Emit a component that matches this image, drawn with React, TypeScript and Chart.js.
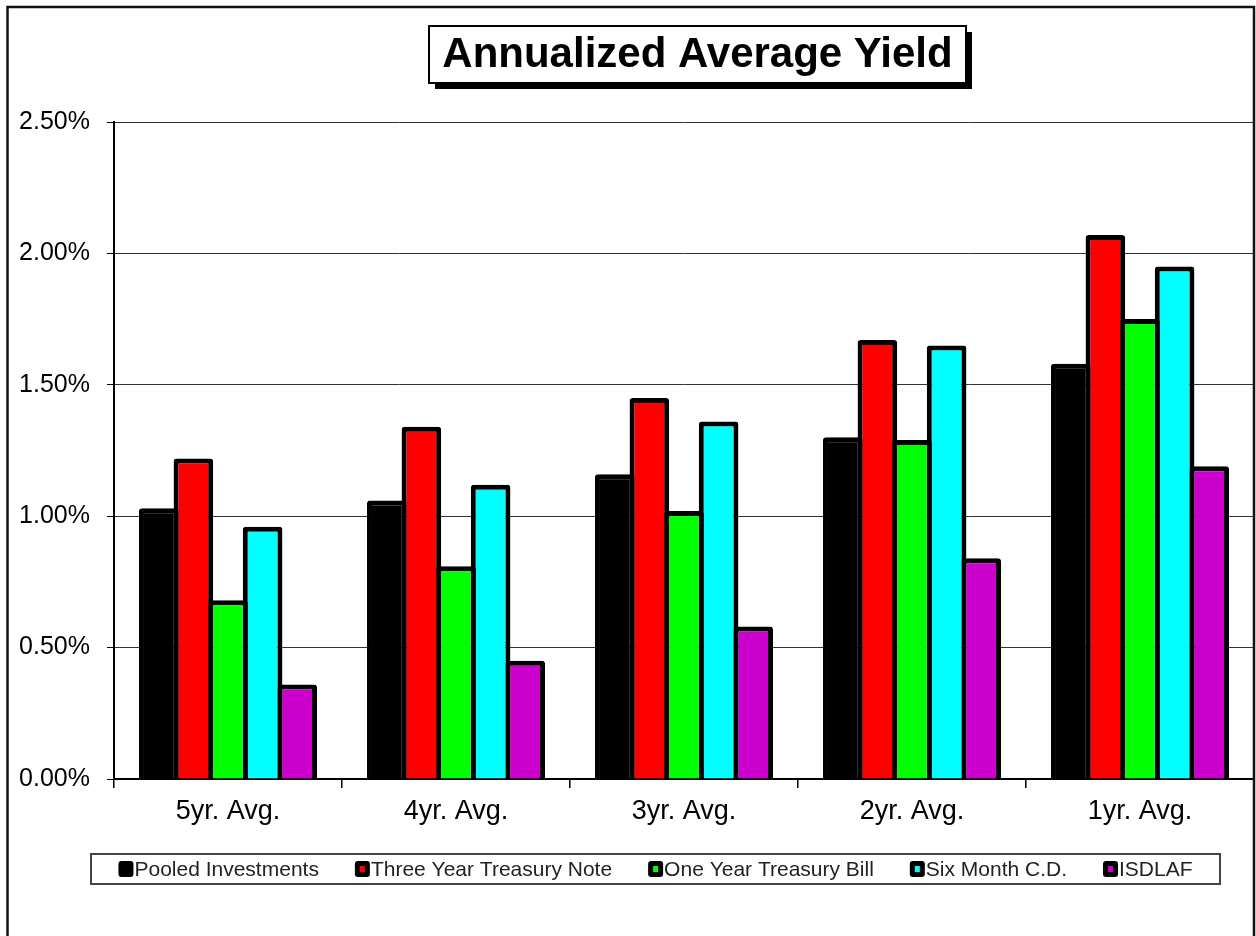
import { useEffect, useRef } from 'react';
import { Chart, registerables } from 'chart.js';

Chart.register(...registerables);

// Yield categories along the x axis
const categories = ['5yr. Avg.', '4yr. Avg.', '3yr. Avg.', '2yr. Avg.', '1yr. Avg.'];

// Series names (legend order)
const seriesNames = [
  'Pooled Investments',
  'Three Year Treasury Note',
  'One Year Treasury Bill',
  'Six Month C.D.',
  'ISDLAF',
];

// Annualized average yields, in percent
const pooledInvestments = [1.03, 1.06, 1.16, 1.30, 1.58];
const threeYearTreasuryNote = [1.22, 1.34, 1.45, 1.67, 2.07];
const oneYearTreasuryBill = [0.68, 0.81, 1.02, 1.29, 1.75];
const sixMonthCD = [0.96, 1.12, 1.36, 1.65, 1.95];
const isdlaf = [0.36, 0.45, 0.58, 0.84, 1.19];

const seriesValues = [pooledInvestments, threeYearTreasuryNote, oneYearTreasuryBill, sixMonthCD, isdlaf];
const seriesColors = ['#000000', '#ff0000', '#00ff00', '#00ffff', '#cc00cc'];

// Value axis
const yMin = 0;
const yMax = 2.5;
const yStep = 0.5;
const formatPercent = (v: number) => v.toFixed(2) + '%';

const chartTitle = 'Annualized Average Yield';
const FONT = '"Liberation Sans", Arial, sans-serif';

// Draws the outer frame and the boxed title with its drop shadow
const frameAndTitlePlugin = {
  id: 'frameAndTitle',
  afterDraw(chart: any) {
    const ctx = chart.ctx as CanvasRenderingContext2D;
    ctx.save();

    // outer frame (open at the bottom edge of the canvas)
    ctx.strokeStyle = '#111';
    ctx.lineWidth = 2.5;
    ctx.strokeRect(7.5, 7, 1246.5, 960);

    // title box
    const bx = 429;
    const by = 26;
    const bw = 537;
    const bh = 57;
    ctx.fillStyle = '#000';
    ctx.fillRect(bx + 6, by + 6, bw, bh);
    ctx.fillStyle = '#fff';
    ctx.fillRect(bx, by, bw, bh);
    ctx.strokeStyle = '#000';
    ctx.lineWidth = 2;
    ctx.strokeRect(bx, by, bw, bh);

    ctx.fillStyle = '#000';
    ctx.font = `bold 42px ${FONT}`;
    ctx.textAlign = 'center';
    ctx.textBaseline = 'middle';
    ctx.fillText(chartTitle, bx + bw / 2, by + bh / 2 + 1);
    ctx.restore();
  },
};

// Draws the boxed legend below the category labels
const boxedLegendPlugin = {
  id: 'boxedLegend',
  afterDraw(chart: any) {
    const ctx = chart.ctx as CanvasRenderingContext2D;
    const left = 91;
    const top = 854;
    const right = 1220;
    const bottom = 884;
    const cy = (top + bottom) / 2;
    const markerW = 15;
    const markerH = 16;
    const markerGap = 1;
    const itemGap = 36;

    ctx.save();
    ctx.fillStyle = '#fff';
    ctx.fillRect(left, top, right - left, bottom - top);
    ctx.strokeStyle = '#444';
    ctx.lineWidth = 2;
    ctx.strokeRect(left, top, right - left, bottom - top);

    ctx.font = `21px ${FONT}`;
    ctx.textBaseline = 'middle';
    ctx.textAlign = 'left';

    const datasets = chart.data.datasets;
    const widths = datasets.map((d: any) => ctx.measureText(d.label).width);
    const total =
      widths.reduce((a: number, w: number) => a + w + markerW + markerGap, 0) + itemGap * (datasets.length - 1);
    let x = (left + right) / 2 - total / 2;

    datasets.forEach((d: any, i: number) => {
      // marker: black rounded square with a small coloured centre
      ctx.fillStyle = '#000';
      ctx.beginPath();
      (ctx as any).roundRect(x, cy - markerH / 2, markerW, markerH, 3);
      ctx.fill();
      ctx.fillStyle = d.backgroundColor;
      ctx.fillRect(x + 5, cy - 3, 5, 6);

      ctx.fillStyle = '#222';
      ctx.fillText(d.label, x + markerW + markerGap, cy + 1);
      x += markerW + markerGap + widths[i] + itemGap;
    });
    ctx.restore();
  },
};

export default function App() {
  const canvasRef = useRef<HTMLCanvasElement | null>(null);

  useEffect(() => {
    if (!canvasRef.current) return;
    const chart = new Chart(canvasRef.current, {
      type: 'bar',
      data: {
        labels: categories,
        datasets: seriesNames.map((name, i) => ({
          label: name,
          data: seriesValues[i],
          backgroundColor: seriesColors[i],
          borderColor: '#000',
          borderWidth: 5,
          borderRadius: 3,
          borderSkipped: 'start',
          categoryPercentage: 0.759,
          barPercentage: 1.145,
        })),
      },
      options: {
        animation: false,
        responsive: false,
        devicePixelRatio: 1,
        layout: { padding: { top: 122, right: 2, left: 0, bottom: 0 } },
        plugins: {
          legend: { display: false },
          title: { display: false },
          tooltip: { enabled: false },
        },
        scales: {
          x: {
            ticks: { font: { family: FONT, size: 27 }, color: '#000', padding: 7 },
            grid: { drawOnChartArea: false, tickLength: 9, color: '#000', lineWidth: 1.5 },
            border: { color: '#000', width: 2 },
            afterFit: (s: any) => {
              s.height = 157;
            },
          },
          y: {
            min: yMin,
            max: yMax,
            ticks: {
              stepSize: yStep,
              font: { family: FONT, size: 25 },
              color: '#000',
              padding: 17,
              callback: (v: any) => formatPercent(Number(v)),
            },
            grid: { color: '#333', lineWidth: 1, tickLength: 7, tickColor: '#000' },
            border: { color: '#000', width: 2 },
            afterFit: (s: any) => {
              s.width = 114;
            },
          },
        },
      },
      plugins: [frameAndTitlePlugin, boxedLegendPlugin],
    });
    return () => chart.destroy();
  }, []);

  return (
    <div style={{ position: 'absolute', left: 0, top: 0, width: 1256, height: 936, background: '#fff' }}>
      <canvas ref={canvasRef} width={1256} height={936} />
    </div>
  );
}
